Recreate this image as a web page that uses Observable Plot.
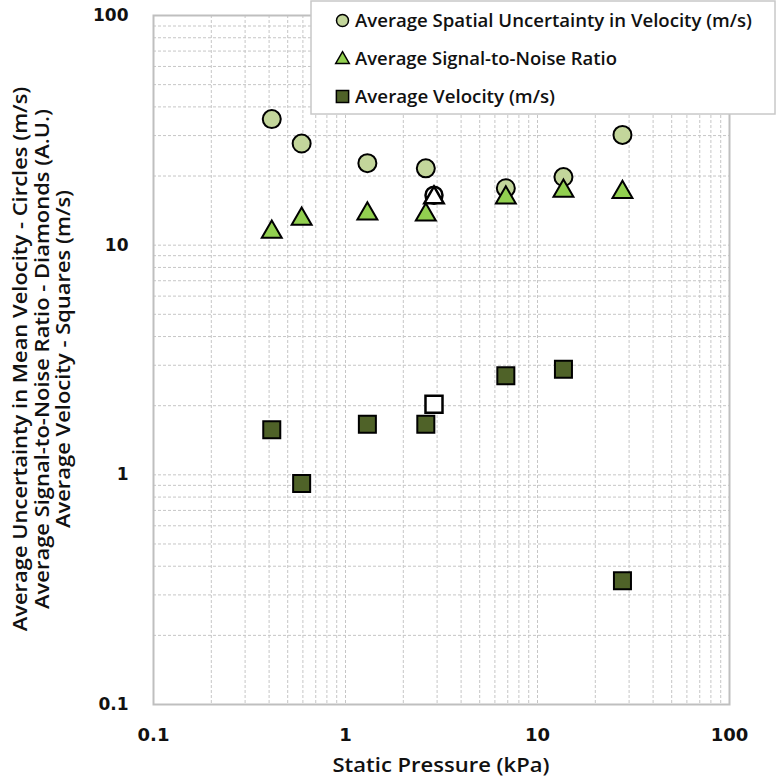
<!DOCTYPE html>
<html>
<head>
<meta charset="utf-8">
<script src="https://cdn.jsdelivr.net/npm/d3@7"></script>
<script src="https://cdn.jsdelivr.net/npm/@observablehq/plot@0.6"></script>
<style>
  body { margin: 0; background: #ffffff; }
  #chart { position: relative; width: 776px; height: 781px; }
</style>
</head>
<body>
<div id="chart"></div>
<script>
// ---- Data ----
const pressure = [0.413, 0.591, 1.30, 2.62, 6.84, 13.65, 27.7];          // kPa
const spatialUncertainty = [35.4, 27.7, 22.75, 21.6, 17.7, 19.8, 30.2];  // circles
const signalToNoise = [11.4, 13.0, 13.7, 13.55, 16.1, 17.2, 17.0];        // triangles
const velocity = [1.57, 0.916, 1.66, 1.66, 2.70, 2.88, 0.3455];           // squares

// open (unfilled) markers
const openPressure = [2.89];
const openUncertainty = [16.5];
const openSignalToNoise = [16.1];
const openVelocity = [2.03];

const tickValues = [0.1, 1, 10, 100];
const seriesNames = [
  "Average Spatial Uncertainty in Velocity (m/s)",
  "Average Signal-to-Noise Ratio",
  "Average Velocity (m/s)"
];
const yTitleLines = [
  "Average Uncertainty in Mean Velocity - Circles (m/s)",
  "Average Signal-to-Noise Ratio - Diamonds (A.U.)",
  "Average Velocity - Squares (m/s)"
];
const xTitle = "Static Pressure (kPa)";

// ---- build tables ----
const rows = pressure.map((p, i) => ({p, u: spatialUncertainty[i], s: signalToNoise[i], v: velocity[i]}));
const openRows = openPressure.map((p, i) => ({p, u: openUncertainty[i], s: openSignalToNoise[i], v: openVelocity[i]}));
const gridValues = tickValues.slice(0, -1).flatMap(d => d3.range(1, 10).map(k => +(d * k).toPrecision(3))).concat([100]);

const circleFill = "#c3d69b";
const triFill = "#92d050";
const squareFill = "#4f6228";
const labelFont = "'Open Sans', sans-serif";

const gridStyle = {stroke: "#c6c6c6", strokeOpacity: 1, strokeWidth: 1, strokeDasharray: "3,2"};

const svg = Plot.plot({
  width: 776,
  height: 781,
  marginLeft: 153,
  marginRight: 47,
  marginTop: 15,
  marginBottom: 77,
  style: {background: "#ffffff", fontFamily: labelFont},
  x: {type: "log", domain: [0.1, 100], label: null},
  y: {type: "log", domain: [0.1, 100], label: null},
  marks: [
    Plot.gridX(gridValues, gridStyle),
    Plot.gridY(gridValues, gridStyle),
    Plot.frame({stroke: "#bfbfbf", strokeWidth: 2}),
    Plot.axisX(tickValues, {tickSize: 0, tickPadding: 24, tickFormat: d => String(d),
      fontSize: 18, fontWeight: "bold", fontFamily: "'DejaVu Sans', sans-serif", fill: "#111", label: null}),
    Plot.axisY(tickValues, {tickSize: 0, tickPadding: 25, tickFormat: d => String(d),
      fontSize: 17, fontWeight: "bold", fontFamily: "'DejaVu Sans', sans-serif", fill: "#111", label: null}),
    Plot.dot(rows, {x: "p", y: "u", symbol: "circle", r: 9, fill: circleFill, stroke: "#000", strokeWidth: 2}),
    Plot.dot(rows, {x: "p", y: "s", symbol: "triangle", r: 7.4, fill: triFill, stroke: "#000", strokeWidth: 2}),
    Plot.dot(rows, {x: "p", y: "v", symbol: "square", r: 9.6, fill: squareFill, stroke: "#000", strokeWidth: 2}),
    Plot.dot(openRows, {x: "p", y: "u", symbol: "circle", r: 8.5, fill: "#fff", stroke: "#000", strokeWidth: 2.5}),
    Plot.dot(openRows, {x: "p", y: "s", symbol: "triangle", r: 7.2, fill: "#fff", stroke: "#000", strokeWidth: 2.5}),
    Plot.dot(openRows, {x: "p", y: "v", symbol: "square", r: 9.6, fill: "#fff", stroke: "#000", strokeWidth: 2.5})
  ]
});

document.getElementById("chart").appendChild(svg);
const root = d3.select(svg);

// ---- axis titles ----
const yCenter = 359;
const yBaselines = [27, 48.5, 70];
yTitleLines.forEach((t, i) => {
  root.append("text")
    .attr("transform", `translate(${yBaselines[i]},${yCenter}) rotate(-90) scale(1.155,1)`)
    .attr("text-anchor", "middle")
    .attr("font-family", labelFont)
    .attr("font-weight", 600)
    .attr("font-size", 19)
    .attr("fill", "#111")
    .text(t);
});
root.append("text")
  .attr("x", 441).attr("y", 772)
  .attr("text-anchor", "middle")
  .attr("font-family", labelFont)
  .attr("font-weight", 600)
  .attr("font-size", 20)
  .attr("textLength", 217)
  .attr("lengthAdjust", "spacingAndGlyphs")
  .attr("fill", "#111")
  .text(xTitle);

// ---- legend ----
const lg = root.append("g");
lg.append("rect").attr("x", 311).attr("y", 1).attr("width", 464).attr("height", 113)
  .attr("fill", "#fff").attr("stroke", "#c8c8c8").attr("stroke-width", 1.5);
const legendSymbols = [d3.symbolCircle, d3.symbolTriangle, d3.symbolSquare];
const legendFills = [circleFill, triFill, squareFill];
const legendSizes = [Math.PI * 6 * 6, 80, 150];
const legendY = [20.5, 58, 96.5];
const legendLengths = [397, 262, 200];
seriesNames.forEach((name, i) => {
  lg.append("path")
    .attr("transform", `translate(342.5,${legendY[i] + (i === 1 ? 1.5 : 0)})`)
    .attr("d", d3.symbol(legendSymbols[i], legendSizes[i])())
    .attr("fill", legendFills[i]).attr("stroke", "#000").attr("stroke-width", 1.5);
  lg.append("text")
    .attr("x", 355).attr("y", legendY[i] + 6.5)
    .attr("text-anchor", "start")
    .attr("font-family", labelFont)
    .attr("font-weight", 600)
    .attr("font-size", 18)
    .attr("textLength", legendLengths[i])
    .attr("lengthAdjust", "spacingAndGlyphs")
    .attr("fill", "#111")
    .text(name);
});
</script>
</body>
</html>
